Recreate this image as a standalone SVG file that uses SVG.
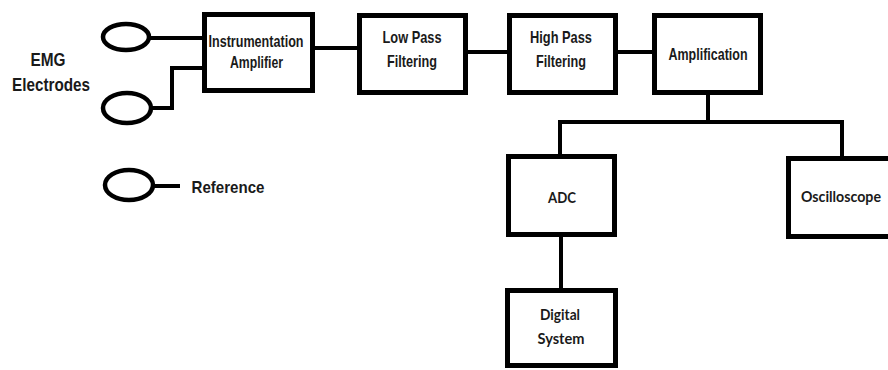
<svg xmlns="http://www.w3.org/2000/svg" width="888" height="370" viewBox="0 0 888 370">
<style>
.box{fill:#fff;stroke:#000;stroke-width:5}
.el{fill:none;stroke:#000;stroke-width:4.5}
.wire{fill:none;stroke:#000;stroke-width:4;stroke-linejoin:miter}
.t{font-family:"Liberation Sans",Arial,sans-serif;font-weight:bold;fill:#1a1a1a;text-anchor:middle}
.c{font-family:Lato,"Open Sans",sans-serif;font-weight:bold;fill:#1a1a1a;text-anchor:middle}
</style>
<rect width="888" height="370" fill="#fff"/>
<g id="connectors">
<path class="wire" d="M150 38 H204"/>
<path class="wire" d="M151 108 H172 V68 H204"/>
<path class="wire" d="M315 48 H358"/>
<path class="wire" d="M468 52 H508"/>
<path class="wire" d="M618 52 H653"/>
<path class="wire" d="M708 94 V122"/>
<path class="wire" d="M560 155 V122 H842 V157"/>
<path class="wire" d="M561 236 V289"/>
<path class="wire" d="M153 186 H180"/>
</g>
<g id="emg-label">
<text class="t" x="48" y="66" font-size="19" textLength="35" lengthAdjust="spacingAndGlyphs">EMG</text>
<text class="t" x="51" y="91" font-size="19" textLength="78" lengthAdjust="spacingAndGlyphs">Electrodes</text>
</g>
<g id="electrode1"><ellipse class="el" cx="126" cy="37" rx="23" ry="13"/></g>
<g id="electrode2"><ellipse class="el" cx="127" cy="108" rx="24" ry="15"/></g>
<g id="reference">
<ellipse class="el" cx="129" cy="185" rx="24" ry="15"/>
<text class="t" x="228" y="193" font-size="17" textLength="73" lengthAdjust="spacingAndGlyphs">Reference</text>
</g>
<g id="inst-amp">
<rect class="box" x="204.5" y="14.5" width="108" height="76"/>
<text class="t" x="256" y="47" font-size="16" textLength="95" lengthAdjust="spacingAndGlyphs">Instrumentation</text>
<text class="t" x="256.5" y="68" font-size="16" textLength="53" lengthAdjust="spacingAndGlyphs">Amplifier</text>
</g>
<g id="low-pass">
<rect class="box" x="359.5" y="15.5" width="106" height="77"/>
<text class="t" x="412" y="43" font-size="17" textLength="59" lengthAdjust="spacingAndGlyphs">Low Pass</text>
<text class="t" x="412" y="67" font-size="17" textLength="50" lengthAdjust="spacingAndGlyphs">Filtering</text>
</g>
<g id="high-pass">
<rect class="box" x="509.5" y="15.5" width="106" height="77"/>
<text class="t" x="561" y="43" font-size="17" textLength="62" lengthAdjust="spacingAndGlyphs">High Pass</text>
<text class="t" x="561" y="67" font-size="17" textLength="50" lengthAdjust="spacingAndGlyphs">Filtering</text>
</g>
<g id="amplification">
<rect class="box" x="654.5" y="15.5" width="106" height="77"/>
<text class="t" x="708" y="60" font-size="17" textLength="79" lengthAdjust="spacingAndGlyphs">Amplification</text>
</g>
<g id="adc">
<rect class="box" x="508.5" y="156.5" width="106" height="78"/>
<text class="c" x="562" y="203" font-size="16" textLength="28" lengthAdjust="spacingAndGlyphs">ADC</text>
</g>
<g id="oscilloscope">
<rect class="box" x="788.5" y="158.5" width="110" height="78"/>
<text class="c" x="841" y="202" font-size="16" textLength="80" lengthAdjust="spacingAndGlyphs">Oscilloscope</text>
</g>
<g id="digital-system">
<rect class="box" x="507.5" y="290.5" width="108" height="75"/>
<text class="c" x="560" y="320" font-size="16" textLength="40" lengthAdjust="spacingAndGlyphs">Digital</text>
<text class="c" x="561" y="344" font-size="16" textLength="47" lengthAdjust="spacingAndGlyphs">System</text>
</g>
</svg>
